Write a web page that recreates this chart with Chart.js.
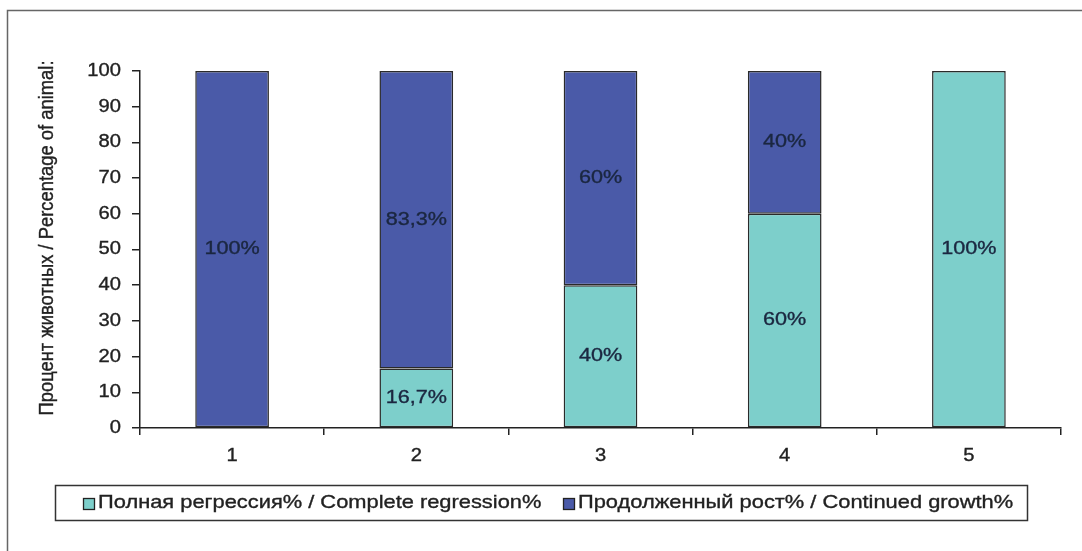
<!DOCTYPE html>
<html>
<head>
<meta charset="utf-8">
<script src="https://cdn.jsdelivr.net/npm/chart.js@4/dist/chart.umd.min.js"></script>
<style>
  html, body { margin: 0; padding: 0; background: #fff; }
  #wrap { width: 1082px; height: 551px; position: relative; }
</style>
</head>
<body>
<div id="wrap"><canvas id="c" width="1082" height="551"></canvas></div>
<script>
// Groups of animals on the x axis
const categories = ['1', '2', '3', '4', '5'];
// Share of animals with complete regression, %
const completeRegression = [0, 16.7, 40, 60, 100];
// Share of animals with continued growth, %
const continuedGrowth = [100, 83.3, 60, 40, 0];
// Value labels printed inside the segments
const regressionLabels = ['', '16,7%', '40%', '60%', '100%'];
const growthLabels = ['100%', '83,3%', '60%', '40%', ''];
// Y axis ticks
const yTicks = [0, 10, 20, 30, 40, 50, 60, 70, 80, 90, 100];

const seriesNames = [
  'Полная регрессия% / Complete regression%',
  'Продолженный рост% / Continued growth%'
];
const yTitle = 'Процент животных / Percentage of animal:';

const TEAL = '#7dcfcb';
const BLUE = '#4a5aa8';
const INK = '#222';
const FAMILY = '"Liberation Sans", Arial, sans-serif';

// Draws text widened by factor sx, with a faint outline for a heavier look
function stretchedText(ctx, text, x, y, align, size, sx, color) {
  ctx.save();
  ctx.font = size + 'px ' + FAMILY;
  ctx.fillStyle = color;
  ctx.strokeStyle = color;
  ctx.lineWidth = 0.35;
  ctx.textBaseline = 'middle';
  ctx.textAlign = 'left';
  const w = ctx.measureText(text).width * sx;
  let left = x;
  if (align === 'center') left = x - w / 2;
  else if (align === 'right') left = x - w;
  ctx.translate(left, y);
  ctx.scale(sx, 1);
  ctx.fillText(text, 0, 0);
  ctx.strokeText(text, 0, 0);
  ctx.restore();
  return w;
}

const decor = {
  id: 'decor',
  beforeDraw(chart) {
    const ctx = chart.ctx;
    ctx.save();
    ctx.fillStyle = '#fff';
    ctx.fillRect(0, 0, chart.width, chart.height);
    // outer frame (left and top edges visible)
    ctx.strokeStyle = '#666';
    ctx.lineWidth = 1.5;
    ctx.beginPath();
    ctx.moveTo(7.5, 551);
    ctx.lineTo(7.5, 10.5);
    ctx.lineTo(1082, 10.5);
    ctx.stroke();
    ctx.restore();
  },
  afterDraw(chart) {
    const ctx = chart.ctx;
    const xs = chart.scales.x, ys = chart.scales.y;
    // y tick labels
    yTicks.forEach(v => {
      stretchedText(ctx, String(v), 121, ys.getPixelForValue(v), 'right', 18, 1.12, INK);
    });
    // x tick labels
    categories.forEach((c, i) => {
      stretchedText(ctx, c, xs.getPixelForValue(i), 456, 'center', 18, 1.12, INK);
    });
    // y axis title
    ctx.save();
    ctx.font = '19px ' + FAMILY;
    ctx.fillStyle = INK;
    ctx.strokeStyle = INK;
    ctx.lineWidth = 0.35;
    ctx.textBaseline = 'middle';
    ctx.textAlign = 'center';
    ctx.translate(48, 238);
    ctx.rotate(-Math.PI / 2);
    const tw = ctx.measureText(yTitle).width;
    ctx.scale(355 / tw, 1.05);
    ctx.fillText(yTitle, 0, 0);
    ctx.strokeText(yTitle, 0, 0);
    ctx.restore();

    // segment labels
    const labelSets = [regressionLabels, growthLabels];
    chart.data.datasets.forEach((ds, di) => {
      const meta = chart.getDatasetMeta(di);
      meta.data.forEach((bar, i) => {
        const t = labelSets[di][i];
        if (!t) return;
        const yMid = (bar.y + bar.base) / 2;
        stretchedText(ctx, t, bar.x, yMid, 'center', 18, 1.2, '#1b2740');
      });
    });

    // legend box
    ctx.save();
    ctx.strokeStyle = '#333';
    ctx.lineWidth = 1.5;
    ctx.strokeRect(55.5, 485.5, 972, 35);
    ctx.restore();
    const itemX = [83, 563];
    chart.data.datasets.forEach((ds, di) => {
      const x0 = itemX[di];
      ctx.save();
      ctx.fillStyle = ds.backgroundColor;
      ctx.strokeStyle = '#222';
      ctx.lineWidth = 1.3;
      ctx.fillRect(x0, 498, 11, 11);
      ctx.strokeRect(x0 + 0.5, 498.5, 11, 11);
      ctx.restore();
      stretchedText(ctx, ds.label, x0 + 15, 503, 'left', 19, 1.15, INK);
    });
  }
};

new Chart(document.getElementById('c'), {
  type: 'bar',
  data: {
    labels: categories,
    datasets: [
      {
        label: seriesNames[0],
        data: completeRegression,
        backgroundColor: TEAL,
        borderColor: '#2a2a2a',
        borderWidth: 1.5,
        borderSkipped: false,
        barPercentage: 0.4,
        categoryPercentage: 1
      },
      {
        label: seriesNames[1],
        data: continuedGrowth,
        backgroundColor: BLUE,
        borderColor: '#2a2a2a',
        borderWidth: 1.5,
        borderSkipped: false,
        barPercentage: 0.4,
        categoryPercentage: 1
      }
    ]
  },
  options: {
    responsive: false,
    animation: false,
    events: [],
    layout: { padding: { left: 0, top: 71, right: 21, bottom: 0 } },
    plugins: { legend: { display: false }, tooltip: { enabled: false } },
    scales: {
      x: {
        stacked: true,
        offset: true,
        grid: { offset: true, drawOnChartArea: false, drawTicks: true, tickLength: 7, color: INK, lineWidth: 1.5 },
        border: { display: true, color: INK, width: 1.5 },
        ticks: { display: false },
        afterFit(s) { s.height = 123; }
      },
      y: {
        stacked: true,
        min: 0,
        max: 100,
        grid: { drawOnChartArea: false, drawTicks: true, tickLength: 8, color: INK, lineWidth: 1.5 },
        border: { display: true, color: INK, width: 1.5 },
        ticks: { display: false, stepSize: 10 },
        afterFit(s) { s.width = 140; }
      }
    }
  },
  plugins: [decor]
});
</script>
</body>
</html>
